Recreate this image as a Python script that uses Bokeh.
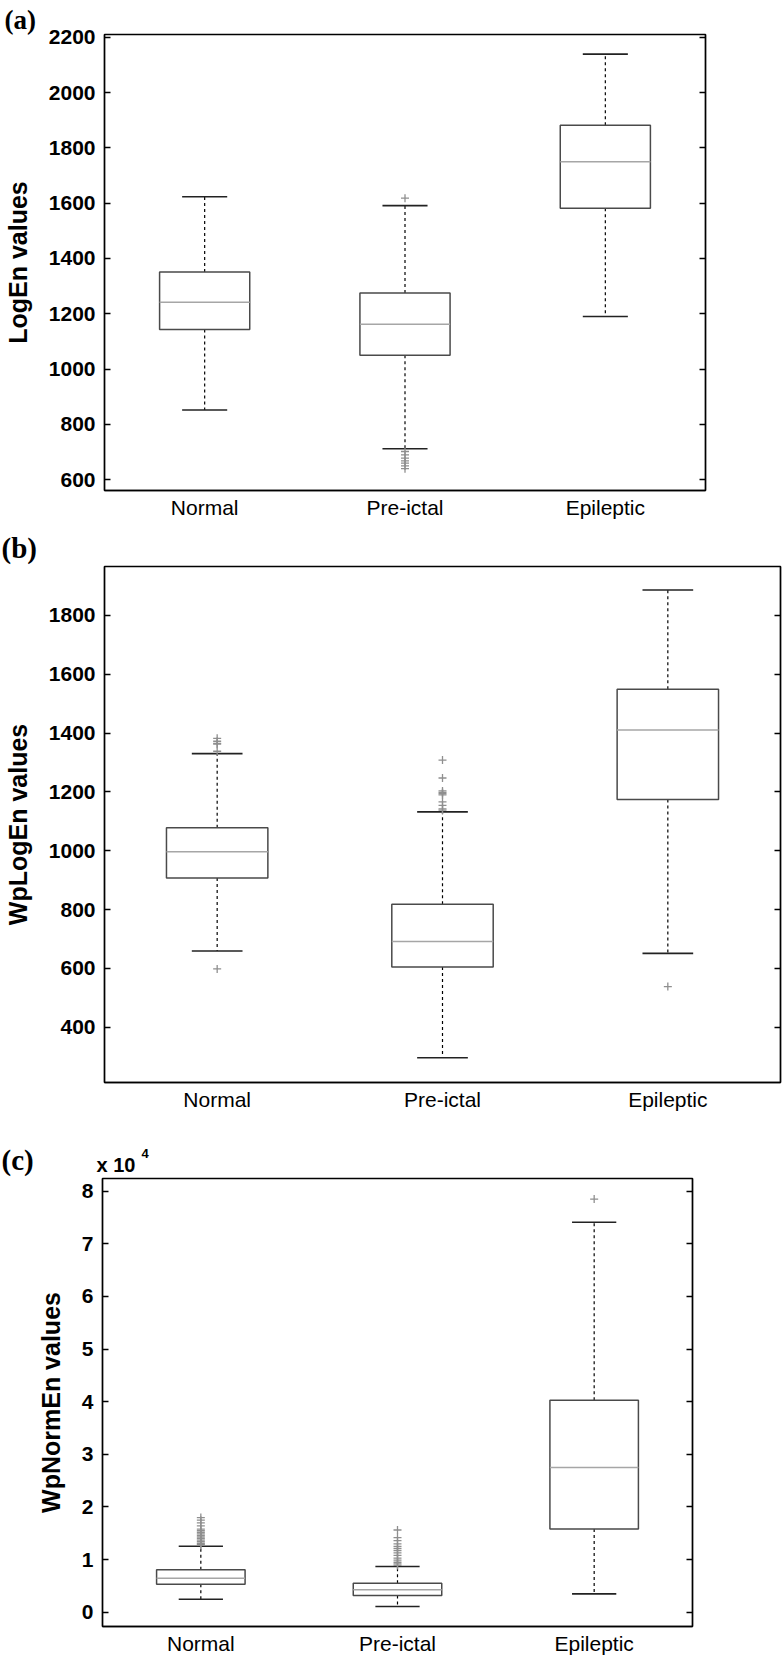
from bokeh.plotting import figure
from bokeh.models import FixedTicker, LinearAxis, Label, Range1d, Title
from bokeh.layouts import column
from bokeh.embed import file_html
from bokeh.resources import INLINE

# ---------------- data ----------------
CATEGORIES = ["Normal", "Pre-ictal", "Epileptic"]

# Panel (a): LogEn
A_LOWER = [852, 712, 1190]
A_Q1 = [1143, 1050, 1582]
A_MEDIAN = [1242, 1162, 1750]
A_Q3 = [1351, 1275, 1882]
A_UPPER = [1623, 1591, 2139]
A_OUT_GROUP = [2, 2, 2, 2, 2, 2, 2, 2]
A_OUT_VALUE = [1618, 702, 690, 678, 668, 660, 650, 640]
A_TICKS = [600, 800, 1000, 1200, 1400, 1600, 1800, 2000, 2200]
A_YRANGE = [561, 2210]

# Panel (b): WpLogEn
B_LOWER = [659, 296, 651]
B_Q1 = [907, 605, 1174]
B_MEDIAN = [996, 691, 1410]
B_Q3 = [1078, 818, 1549]
B_UPPER = [1330, 1132, 1886]
B_OUT_GROUP = [1, 1, 1, 1, 1, 1, 2, 2, 2, 2, 2, 2, 2, 2, 2, 2, 3]
B_OUT_VALUE = [1382, 1372, 1365, 1362, 1338, 598,
               1308, 1247, 1203, 1198, 1194, 1190, 1166, 1154, 1142, 1138, 538]
B_TICKS = [400, 600, 800, 1000, 1200, 1400, 1600, 1800]
B_YRANGE = [212, 1966]

# Panel (c): WpNormEn
C_LOWER = [2470, 1100, 3500]
C_Q1 = [5320, 3200, 15800]
C_MEDIAN = [6460, 4300, 27500]
C_Q3 = [8060, 5500, 40300]
C_UPPER = [12550, 8700, 74100]
C_OUT_GROUP = [1] * 16 + [2] * 14 + [3]
C_OUT_VALUE = [18000, 17500, 17000, 16400, 15800, 15500, 15200, 14900,
               14600, 14300, 14000, 13700, 13400, 13100, 12900, 12700,
               15630, 14200, 13600, 13000, 12500, 12100, 11700, 11300,
               10800, 10300, 9900, 9500, 9200, 8900,
               78500]
C_TICKS = [0, 10000, 20000, 30000, 40000, 50000, 60000, 70000, 80000]
C_TICK_LABELS = ["0", "1", "2", "3", "4", "5", "6", "7", "8"]
C_YRANGE = [-2700, 82400]

FONT = "Liberation Sans"
SERIF = "Liberation Serif"
BOX_W = 0.45


def make_tag(width, height, labels):
    t = figure(width=width, height=height, title=None,
               x_range=Range1d(0, width), y_range=Range1d(0, height),
               x_axis_type=None, y_axis_type=None,
               output_backend="svg", toolbar_location=None,
               min_border=0, outline_line_color=None, frame_align=False)
    t.xgrid.visible = False
    t.ygrid.visible = False
    for (txt, x, y, font, size) in labels:
        t.add_layout(Label(x=x, y=y, text=txt, text_font=font,
                           text_font_style="bold", text_font_size=size,
                           text_color="black", text_align="left",
                           text_baseline="middle", text_line_height=0.8))
    return t


def make_panel(ylabel, lower, q1, med, q3, upper, og, ov, ticks, yr,
               fw, fh, bl, bt, bb, br, tick_labels=None, title=None):
    xs = list(range(1, len(CATEGORIES) + 1))
    p = figure(frame_width=fw, frame_height=fh, title=title,
               x_range=Range1d(0.5, len(CATEGORIES) + 0.5),
               y_range=Range1d(yr[0], yr[1]),
               output_backend="svg", toolbar_location=None,
               min_border_left=bl, min_border_top=bt,
               min_border_bottom=bb, min_border_right=br,
               frame_align=False)
    p.xgrid.visible = False
    p.ygrid.visible = False
    p.outline_line_color = "black"
    p.outline_line_width = 1.4

    # whiskers
    p.segment(x0=xs, y0=q3, x1=xs, y1=upper, line_color="black",
              line_width=1.2, line_dash="3 3")
    p.segment(x0=xs, y0=q1, x1=xs, y1=lower, line_color="black",
              line_width=1.2, line_dash="3 3")
    # caps
    cw = BOX_W / 4
    p.segment(x0=[x - cw for x in xs], y0=upper, x1=[x + cw for x in xs],
              y1=upper, line_color="#222222", line_width=1.6)
    p.segment(x0=[x - cw for x in xs], y0=lower, x1=[x + cw for x in xs],
              y1=lower, line_color="#222222", line_width=1.6)
    # boxes
    p.vbar(x=xs, width=BOX_W, bottom=q1, top=q3, fill_color="white",
           line_color="#4a4a4a", line_width=1.5)
    # medians
    hw = BOX_W / 2
    p.segment(x0=[x - hw for x in xs], y0=med, x1=[x + hw for x in xs],
              y1=med, line_color="#a6a6a6", line_width=1.5)
    # outliers
    p.scatter(x=[xs[g - 1] for g in og], y=ov, marker="cross", size=8,
              line_color="#8f8f8f", line_width=1.3)

    # axes
    yax = p.yaxis[0]
    yax.ticker = FixedTicker(ticks=ticks)
    if tick_labels is not None:
        yax.major_label_overrides = {t: l for t, l in zip(ticks, tick_labels)}
    yax.major_tick_in = 6
    yax.major_tick_out = 0
    yax.minor_tick_in = 0
    yax.minor_tick_out = 0
    yax.axis_line_color = "black"
    yax.axis_line_width = 1.4
    yax.major_tick_line_width = 1.3
    yax.major_label_text_font = FONT
    yax.major_label_text_font_style = "bold"
    yax.major_label_text_font_size = "21px"
    yax.major_label_text_color = "black"
    yax.major_label_standoff = 9
    yax.axis_label = ylabel
    yax.axis_label_text_font = FONT
    yax.axis_label_text_font_style = "bold"
    yax.axis_label_text_font_size = "25px"
    yax.axis_label_text_color = "black"
    yax.axis_label_standoff = 14

    xax = p.xaxis[0]
    xax.ticker = FixedTicker(ticks=xs)
    xax.major_label_overrides = {x: c for x, c in zip(xs, CATEGORIES)}
    xax.major_tick_in = 0
    xax.major_tick_out = 0
    xax.minor_tick_in = 0
    xax.minor_tick_out = 0
    xax.axis_line_color = "black"
    xax.axis_line_width = 1.4
    xax.major_label_text_font = FONT
    xax.major_label_text_font_size = "21px"
    xax.major_label_text_color = "black"
    xax.major_label_standoff = 5

    rax = LinearAxis(ticker=FixedTicker(ticks=ticks))
    rax.major_label_overrides = {t: "" for t in ticks}
    rax.major_label_text_font_size = "0px"
    rax.major_label_text_color = None
    rax.major_label_standoff = 0
    rax.major_tick_in = 6
    rax.major_tick_out = 0
    rax.minor_tick_in = 0
    rax.minor_tick_out = 0
    rax.axis_line_color = "black"
    rax.axis_line_width = 1.4
    rax.major_tick_line_width = 1.3
    p.add_layout(rax, "right")
    return p


titleA = Title(text="(a)", align="left", offset=-100, standoff=0,
               vertical_align="bottom", text_font=SERIF,
               text_font_style="bold", text_font_size="27px",
               text_color="black")
pA = make_panel("LogEn values", A_LOWER, A_Q1, A_MEDIAN, A_Q3, A_UPPER,
                A_OUT_GROUP, A_OUT_VALUE, A_TICKS, A_YRANGE,
                fw=601, fh=456, bl=102, bt=34, bb=40, br=8, title=titleA)
tagB = make_tag(760, 35, [("(b)", 1, 17.5, SERIF, "29px")])
pB = make_panel("WpLogEn values", B_LOWER, B_Q1, B_MEDIAN, B_Q3,
                B_UPPER, B_OUT_GROUP, B_OUT_VALUE, B_TICKS, B_YRANGE,
                fw=676, fh=516, bl=103, bt=1, bb=40, br=2)
tagC = make_tag(760, 55, [("(c)", 1, 17.6, SERIF, "29px"),
                          ("x 10", 96, 12.2, FONT, "20px"),
                          ("4", 141, 24.5, FONT, "13px")])
pC = make_panel("WpNormEn values", C_LOWER, C_Q1, C_MEDIAN, C_Q3,
                C_UPPER, C_OUT_GROUP, C_OUT_VALUE, C_TICKS, C_YRANGE,
                fw=590, fh=448, bl=102, bt=1, bb=30, br=8,
                tick_labels=C_TICK_LABELS)

layout = column(pA, tagB, pB, tagC, pC)
open("out.html", "w").write(file_html(layout, INLINE))
